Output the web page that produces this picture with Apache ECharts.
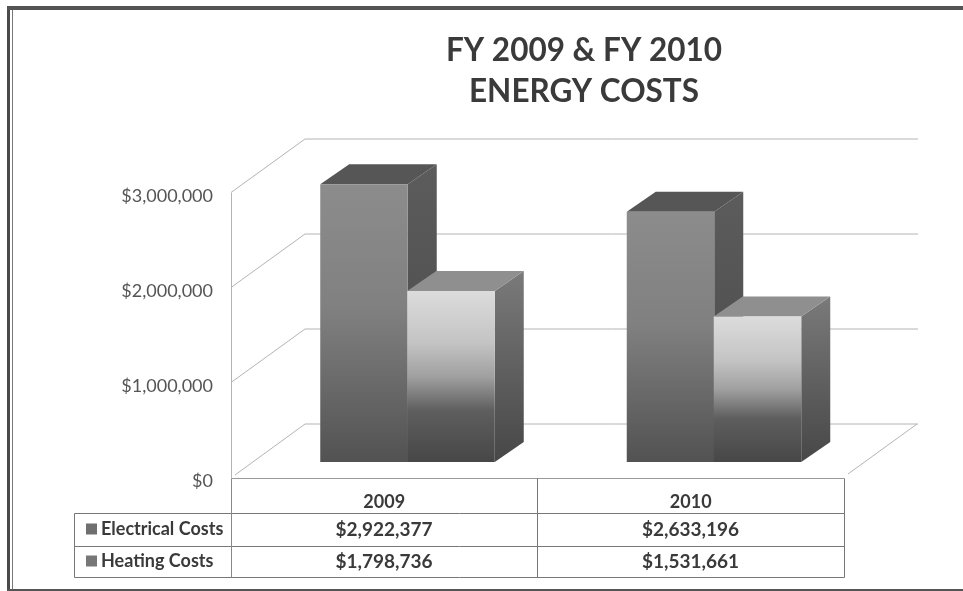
<!DOCTYPE html>
<html><head><meta charset="utf-8">
<style>html,body{margin:0;padding:0;background:#fff}#c{width:963px;height:591px}</style>
<script src="https://cdn.jsdelivr.net/npm/echarts@6/dist/echarts.min.js"></script>
</head><body><div id="c"></div>
<script>
const titleLines = ['FY 2009 & FY 2010', 'ENERGY COSTS'];
const years = ['2009', '2010'];
const electrical = [2922377, 2633196];
const heating = [1798736, 1531661];
const wallTicks = [0, 1000000, 2000000, 3000000];
const seriesNames = ['Electrical Costs', 'Heating Costs'];

const FONT = 'Lato';
const money = v => '$' + v.toString().replace(/\B(?=(\d{3})+$)/g, ',');
const chart = echarts.init(document.getElementById('c'), null, {renderer: 'canvas'});

const GRID = {left: 231, top: 196, width: 613, height: 285};
const LG = (stops) => ({type: 'linear', x: 0, y: 0, x2: 0, y2: 1,
  colorStops: stops.map(s => ({offset: s[0], color: s[1]}))});

function barRenderer(leftOffset, faces) {
  return function (params, api) {
    const base = api.coord([api.value(0), 0]);
    const top = api.coord([api.value(0), api.value(1)]);
    const lift = 19, w = 87.5, dx = 29, dy = -20;
    const x0 = base[0] + leftOffset, x1 = x0 + w;
    const yb = base[1] - lift, yt = top[1] - lift;
    const poly = (pts, fill) => ({type: 'polygon', shape: {points: pts}, style: {fill: fill}});
    return {type: 'group', children: [
      poly([[x1, yt], [x1 + dx, yt + dy], [x1 + dx, yb + dy], [x1, yb]], faces.side),
      poly([[x0, yt], [x0 + dx, yt + dy], [x1 + dx, yt + dy], [x1, yt]], faces.top),
      {type: 'rect', shape: {x: x0, y: yt, width: w, height: yb - yt}, style: {fill: faces.front}}
    ]};
  };
}

function wallRenderer(params, api) {
  const cs = params.coordSys;
  const v = api.value(0);
  const y = api.coord([0, v])[1];
  const dx = 74, dy = -57;
  const start = v === 0 ? [cs.x + 4, y - 6] : [cs.x, y - 3.5];
  const children = [{type: 'polyline',
    shape: {points: [start, [cs.x + dx, y + dy], [918, y + dy]]},
    style: {fill: 'none', stroke: '#b4b4b4', lineWidth: 1}}];
  if (v === 0) {
    children.push({type: 'line', shape: {x1: 848, y1: y - 7, x2: 917, y2: y + dy},
      style: {stroke: '#b4b4b4', lineWidth: 1}});
  }
  return {type: 'group', children};
}

const tableX = [231, 537, 844];
const rowY = [478, 513, 546, 577];
const tableLines = [];
const hline = (x1, x2, y, c) => tableLines.push({type: 'line', shape: {x1, y1: y, x2, y2: y}, style: {stroke: c || '#777', lineWidth: 1}});
const vline = (x, y1, y2, c) => tableLines.push({type: 'line', shape: {x1: x, y1, x2: x, y2}, style: {stroke: c || '#777', lineWidth: 1}});
hline(231.5, 844.5, 478.5, '#999');
hline(74.5, 844.5, 513.5);
hline(74.5, 844.5, 546.5);
hline(74.5, 844.5, 577.5);
vline(74.5, 513.5, 577.5);
vline(231.5, 478.5, 577.5, '#888');
vline(537.5, 478.5, 577.5);
vline(844.5, 478.5, 577.5);
vline(231.5, 193, 478.5, '#b4b4b4');

const cellText = [];
[electrical, heating].forEach((arr, r) => arr.forEach((v, c) => {
  cellText.push({type: 'text', x: (tableX[c] + tableX[c + 1]) / 2, y: (rowY[r + 1] + rowY[r + 2]) / 2,
    style: {text: money(v), fontFamily: FONT, fontWeight: 'bold', fontSize: 19, fill: '#3a3a3a',
      align: 'center', verticalAlign: 'middle'}});
}));

const frame = [
  {type: 'rect', shape: {x: 7, y: 6, width: 3, height: 585}, style: {fill: '#4a4a4a'}},
  {type: 'rect', shape: {x: 12, y: 10, width: 1, height: 581}, style: {fill: '#777'}},
  {type: 'rect', shape: {x: 7, y: 6, width: 956, height: 4}, style: {fill: '#555'}},
  {type: 'rect', shape: {x: 7, y: 589, width: 956, height: 2}, style: {fill: '#555'}}
];

chart.setOption({
  animation: false,
  backgroundColor: '#fff',
  title: {
    text: titleLines.join('\n'), left: 579, top: 25, textAlign: 'center',
    textStyle: {fontFamily: FONT, fontWeight: 'bold', fontSize: 31.5, lineHeight: 41, color: '#3a3a3a'}
  },
  legend: {
    data: seriesNames, orient: 'vertical', left: 81, top: 515, itemGap: 14,
    itemWidth: 11, itemHeight: 11, icon: 'rect', selectedMode: false,
    textStyle: {fontFamily: FONT, fontWeight: 'bold', fontSize: 18, color: '#3a3a3a', padding: [0, 0, 0, -1]}
  },
  grid: GRID,
  xAxis: {
    type: 'category', data: years,
    axisLine: {show: false}, axisTick: {show: false},
    axisLabel: {margin: 12, fontFamily: FONT, fontWeight: 'bold', fontSize: 18, color: '#3a3a3a'}
  },
  yAxis: {
    type: 'value', min: 0, max: 3000000, interval: 1000000,
    axisLine: {show: false}, axisTick: {show: false},
    splitLine: {show: false},
    axisLabel: {margin: 18, fontFamily: FONT, fontSize: 18, color: '#555', formatter: v => money(v)}
  },
  graphic: [...frame, ...tableLines, ...cellText],
  series: [
    {type: 'custom', name: 'walls', silent: true, renderItem: wallRenderer, clip: false, z: 1,
      data: wallTicks.map(v => [v]), encode: {y: 0}},
    {type: 'custom', name: seriesNames[0], clip: false, z: 2, itemStyle: {color: '#6f6f6f'},
      renderItem: barRenderer(-64, {
        front: LG([[0, '#8c8c8c'], [0.45, '#808080'], [1, '#525252']]),
        top: '#565656',
        side: LG([[0, '#5c5c5c'], [1, '#484848']])
      }),
      data: electrical.map((v, i) => [i, v]), encode: {x: 0, y: 1}},
    {type: 'custom', name: seriesNames[1], clip: false, z: 3, itemStyle: {color: '#777777'},
      renderItem: barRenderer(23, {
        front: LG([[0, '#dcdcdc'], [0.3, '#c4c4c4'], [0.5, '#a0a0a0'], [0.7, '#5e5e5e'], [1, '#474747']]),
        top: '#8f8f8f',
        side: LG([[0, '#7a7a7a'], [1, '#474747']])
      }),
      data: heating.map((v, i) => [i, v]), encode: {x: 0, y: 1}}
  ]
});
</script></body></html>
